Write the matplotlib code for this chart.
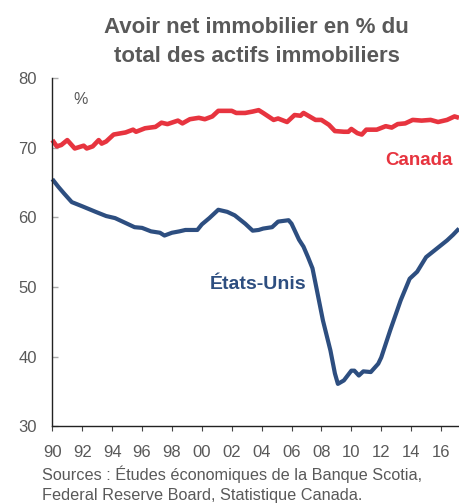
import matplotlib
matplotlib.use("Agg")
import matplotlib.pyplot as plt

plt.rcParams['font.family'] = ['Liberation Sans', 'DejaVu Sans']

title = "Avoir net immobilier en % du\ntotal des actifs immobiliers"
source = "Sources : Études économiques de la Banque Scotia,\nFederal Reserve Board, Statistique Canada."

# Canada (year, %)
ca_year = [1990.0, 1990.3, 1990.6, 1991.0, 1991.5, 1992.1, 1992.3, 1992.7, 1993.1, 1993.3,
           1993.6, 1994.1, 1994.9, 1995.4, 1995.6, 1996.2, 1996.9, 1997.3, 1997.7, 1998.4,
           1998.7, 1999.2, 1999.8, 2000.2, 2000.7, 2001.1, 2002.0, 2002.3, 2002.9, 2003.4,
           2003.8, 2004.1, 2004.8, 2005.1, 2005.7, 2006.2, 2006.6, 2006.8, 2007.2, 2007.6,
           2008.0, 2008.5, 2008.9, 2009.5, 2009.8, 2010.0, 2010.4, 2010.7, 2011.0, 2011.7,
           2012.3, 2012.7, 2013.1, 2013.6, 2014.1, 2014.7, 2015.3, 2015.8, 2016.4, 2016.9,
           2017.2]
ca_val = [71.1, 70.2, 70.4, 71.1, 69.9, 70.3, 69.9, 70.2, 71.1, 70.6,
          70.9, 71.9, 72.2, 72.6, 72.3, 72.8, 73.0, 73.6, 73.4, 73.9,
          73.5, 74.1, 74.3, 74.1, 74.5, 75.3, 75.3, 75.0, 75.0, 75.2,
          75.4, 75.0, 74.0, 74.2, 73.7, 74.7, 74.6, 75.0, 74.5, 74.0,
          74.0, 73.3, 72.4, 72.3, 72.3, 72.7, 72.1, 71.9, 72.6, 72.6,
          73.1, 72.9, 73.4, 73.5, 74.0, 73.9, 74.0, 73.7, 74.0, 74.5,
          74.3]

# États-Unis (year, %)
us_year = [1990.0, 1990.4, 1990.8, 1991.3, 1992.0, 1992.9, 1993.6, 1994.2, 1994.9, 1995.5,
           1996.0, 1996.6, 1997.2, 1997.5, 1998.0, 1998.5, 1998.9, 1999.7, 2000.0, 2000.5,
           2001.1, 2001.7, 2002.2, 2002.9, 2003.4, 2003.8, 2004.1, 2004.7, 2005.1, 2005.8,
           2006.0, 2006.5, 2006.8, 2007.1, 2007.4, 2007.7, 2008.1, 2008.6, 2008.9, 2009.1,
           2009.5, 2010.0, 2010.2, 2010.5, 2010.8, 2011.3, 2011.8, 2012.0, 2012.6, 2013.3,
           2013.9, 2014.4, 2015.0, 2015.7, 2016.4, 2016.8, 2017.2]
us_val = [65.5, 64.4, 63.4, 62.2, 61.6, 60.8, 60.2, 59.9, 59.2, 58.6,
          58.5, 58.0, 57.8, 57.4, 57.8, 58.0, 58.2, 58.2, 59.0, 59.9,
          61.1, 60.8, 60.3, 59.1, 58.1, 58.2, 58.4, 58.6, 59.4, 59.6,
          59.1, 56.8, 55.8, 54.3, 52.7, 49.5, 45.2, 40.9, 37.6, 36.1,
          36.6, 38.0, 38.0, 37.3, 37.9, 37.8, 39.0, 39.9, 43.8, 48.1,
          51.2, 52.2, 54.3, 55.5, 56.7, 57.5, 58.4]

xticks = [1990, 1992, 1994, 1996, 1998, 2000, 2002, 2004, 2006, 2008, 2010, 2012, 2014, 2016]
xticklabels = ["90", "92", "94", "96", "98", "00", "02", "04", "06", "08", "10", "12", "14", "16"]
yticks = [30, 40, 50, 60, 70, 80]

red = "#E7343F"
blue = "#2D4E80"
grey = "#595959"

fig = plt.figure(figsize=(4.59, 5.04), dpi=100)
ax = fig.add_axes([0.114, 0.154, 0.886, 0.691])

ax.plot(ca_year, ca_val, color=red, lw=3.3, solid_joinstyle='round', solid_capstyle='butt', clip_on=False)
ax.plot(us_year, us_val, color=blue, lw=3.0, solid_joinstyle='round', solid_capstyle='butt', clip_on=False)

ax.set_xlim(1990, 2017.2)
ax.set_ylim(30, 80)
ax.set_xticks(xticks)
ax.set_xticklabels(xticklabels)
ax.set_yticks(yticks)

for s in ['top', 'right']:
    ax.spines[s].set_visible(False)
for s in ['left', 'bottom']:
    ax.spines[s].set_color('#222222')
    ax.spines[s].set_linewidth(1.0)

ax.tick_params(axis='x', direction='out', length=3.6, width=0.8, color='#444444',
               labelsize=12, labelcolor=grey, pad=9.5)
ax.tick_params(axis='y', direction='in', length=4, width=1.0, color='#aaaaaa',
               labelsize=12, labelcolor=grey, pad=11)

ax.text(1991.4, 76.9, "%", fontsize=11.5, color=grey, ha='left', va='center')
ax.text(2014.5, 68.2, "Canada", fontsize=13.5, fontweight='bold', color=red, ha='center', va='center')
ax.text(2003.75, 50.3, "États-Unis", fontsize=14, fontweight='bold', color=blue, ha='center', va='center')

fig.text(0.559, 0.916, title, fontsize=16, fontweight='bold', color=grey,
         ha='center', va='center', linespacing=1.5)
fig.text(0.091, 0.0397, source, fontsize=11.7, color=grey, ha='left', va='center', linespacing=1.4)

fig.savefig("out.png", dpi=100)
